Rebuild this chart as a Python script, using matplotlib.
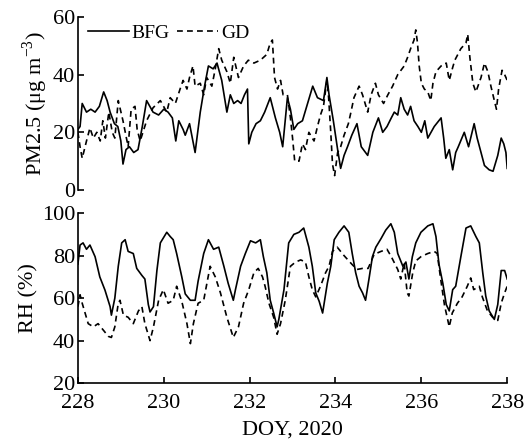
import matplotlib
matplotlib.use("Agg")
import matplotlib.pyplot as plt
import numpy as np

plt.rcParams['font.family'] = ['Liberation Serif', 'DejaVu Serif']
plt.rcParams['mathtext.fontset'] = 'stix'

# PM2.5, BFG (solid)
pm_bfg_doy = [228.0, 228.05, 228.1, 228.2, 228.3, 228.4, 228.5, 228.6, 228.68, 228.75, 228.85, 228.93,
              229.0, 229.05, 229.12, 229.2, 229.3, 229.4, 229.5, 229.6, 229.75, 229.88, 230.0, 230.1,
              230.2, 230.28, 230.35, 230.45, 230.5, 230.6, 230.73, 230.85, 230.95, 231.04, 231.15,
              231.24, 231.35, 231.47, 231.55, 231.63, 231.72, 231.8, 231.88, 231.95, 231.98, 232.05,
              232.15, 232.25, 232.35, 232.48, 232.6, 232.7, 232.77, 232.88, 232.95, 233.03, 233.12,
              233.23, 233.35, 233.47, 233.58, 233.72, 233.8, 233.85, 233.95, 234.05, 234.12, 234.2,
              234.28, 234.38, 234.5, 234.6, 234.75, 234.87, 235.0, 235.1, 235.2, 235.3, 235.37, 235.45,
              235.52, 235.6, 235.68, 235.75, 235.83, 235.92, 236.0, 236.08, 236.15, 236.3, 236.46,
              236.52, 236.57, 236.65, 236.73, 236.8, 236.86, 237.0, 237.1, 237.23, 237.3, 237.39,
              237.47, 237.58, 237.67, 237.78, 237.86, 237.92, 237.97, 238.0]
pm_bfg = [21, 22, 30, 27, 28, 27, 29, 34, 31, 27, 23, 22,
          17, 9, 14, 15, 13, 14, 22, 31, 27, 26, 28, 27,
          25, 17, 24, 21, 19, 23, 13, 27, 36, 43, 42,
          44, 38, 27, 33, 30, 31, 30, 33, 35, 16, 20,
          23, 24, 27, 32, 25, 20, 15, 32, 28, 21, 23,
          24, 30, 36, 32, 31, 39, 33, 24, 14, 7.5, 12,
          15, 19, 23, 15, 12, 20, 25, 20, 22, 25, 27, 26,
          32, 28, 26, 29, 24, 22, 20, 24, 18, 22, 25,
          18, 11, 14, 7, 13, 15, 20, 15, 23, 18, 13,
          8.5, 7, 6.5, 12, 18, 16, 13, 7.5]

# PM2.5, GD (dashed)
pm_gd_doy = [228.0, 228.05, 228.1, 228.2, 228.28, 228.36, 228.44, 228.52, 228.58, 228.64, 228.72, 228.8,
             228.86, 228.94, 229.05, 229.17, 229.24, 229.33, 229.38, 229.45, 229.6, 229.75, 229.92,
             230.07, 230.15, 230.27, 230.38, 230.45, 230.54, 230.6, 230.68, 230.73, 230.85, 230.93,
             231.0, 231.12, 231.2, 231.28, 231.35, 231.47, 231.55, 231.63, 231.74, 231.86, 231.97,
             232.1, 232.25, 232.4, 232.48, 232.53, 232.58, 232.65, 232.72, 232.78, 232.88, 232.95,
             233.0, 233.05, 233.15, 233.23, 233.3, 233.38, 233.5, 233.58, 233.65, 233.72, 233.8,
             233.84, 233.89, 233.93, 233.98, 234.05, 234.12, 234.2, 234.3, 234.36, 234.43, 234.55,
             234.63, 234.75, 234.83, 234.93, 235.0, 235.12, 235.22, 235.33, 235.45, 235.6, 235.68,
             235.75, 235.83, 235.87, 235.91, 235.95, 236.0, 236.07, 236.15, 236.22, 236.27, 236.34,
             236.46, 236.58, 236.65, 236.73, 236.78, 236.92, 237.04, 237.08, 237.13, 237.2, 237.27,
             237.39, 237.47, 237.55, 237.62, 237.7, 237.75, 237.8, 237.88, 237.94, 238.0]
pm_gd = [20, 15, 11, 17, 21.5, 18, 20, 17, 24, 18, 27, 20,
         18, 31, 24, 15, 28, 29, 21, 17, 24, 28.5, 31,
         27, 32, 30, 35, 38, 35, 39, 43, 36, 37, 33,
         39, 36, 42, 49, 45, 41, 37, 46, 39, 43, 45,
         44, 45, 47, 51, 52, 39, 35, 38, 33, 33, 25,
         18, 10, 10, 16, 14, 20, 17, 22, 26, 29, 38,
         32, 20, 9, 5, 13, 15, 19, 23, 27, 32, 36,
         33, 27, 33, 37, 33, 30, 33, 36, 40, 43, 46,
         49, 52, 55.5, 51, 43, 37, 35, 34, 31, 37, 41,
         43, 44, 38, 42.5, 45, 49, 51, 54, 46, 37, 34,
         39, 44, 41, 36, 31, 28, 35, 41.5, 40, 38]

# RH, BFG (solid)
rh_bfg_doy = [228.0, 228.05, 228.12, 228.2, 228.28, 228.4, 228.51, 228.63, 228.75, 228.78, 228.86, 228.94,
              229.02, 229.1, 229.17, 229.29, 229.37, 229.49, 229.56, 229.64, 229.68, 229.76, 229.84,
              229.92, 230.07, 230.15, 230.22, 230.3, 230.42, 230.5, 230.62, 230.73, 230.8, 230.93,
              231.04, 231.16, 231.28, 231.4, 231.5, 231.62, 231.67, 231.79, 231.9, 232.02, 232.14,
              232.25, 232.32, 232.4, 232.48, 232.56, 232.64, 232.68, 232.8, 232.91, 233.03, 233.15,
              233.26, 233.38, 233.46, 233.54, 233.62, 233.7, 233.81, 233.89, 233.97, 234.08, 234.2,
              234.31, 234.39, 234.47, 234.55, 234.63, 234.7, 234.78, 234.86, 234.94, 235.06, 235.17,
              235.29, 235.37, 235.45, 235.57, 235.64, 235.71, 235.79, 235.87, 235.99, 236.15, 236.27,
              236.34, 236.41, 236.5, 236.58, 236.65, 236.73, 236.8, 236.92, 237.04, 237.15, 237.27,
              237.35, 237.43, 237.5, 237.58, 237.7, 237.78, 237.86, 237.94, 238.0]
rh_bfg = [76, 85, 86, 83, 85, 79.5, 70, 63.8, 56, 52, 60, 75,
          86, 87.5, 82, 81, 74, 70.7, 69, 57, 53.5, 56, 73,
          86, 91, 89, 87.5, 81, 70, 62, 59, 59, 68, 81,
          87.5, 83, 84, 75, 67, 59, 64, 75, 81, 87, 86,
          87.5, 79.5, 72, 59, 53, 46.5, 50, 64, 86, 90, 91,
          93, 84, 75, 62.5, 58.5, 53, 67, 75, 87.5, 91, 94,
          91, 81, 72, 65.6, 62.5, 59, 69, 79.5, 84, 88, 92,
          95, 91, 81, 75, 77, 69, 79.5, 86, 91, 94, 95,
          89, 76, 67, 57, 54, 64, 65.6, 79.5, 93, 94, 89,
          86, 72, 61, 54, 50, 57, 73, 73, 69]

# RH, GD (dashed)
rh_gd_doy = [228.0, 228.05, 228.1, 228.24, 228.36, 228.47, 228.59, 228.71, 228.78, 228.86, 228.94, 228.98,
             229.06, 229.17, 229.29, 229.41, 229.49, 229.56, 229.68, 229.76, 229.88, 229.99, 230.1,
             230.22, 230.3, 230.42, 230.54, 230.62, 230.69, 230.8, 230.93, 231.08, 231.2, 231.32,
             231.47, 231.62, 231.74, 231.86, 231.98, 232.1, 232.2, 232.3, 232.36, 232.45, 232.56,
             232.64, 232.72, 232.83, 232.95, 233.07, 233.19, 233.3, 233.38, 233.46, 233.54, 233.65,
             233.77, 233.85, 233.93, 234.04, 234.2, 234.38, 234.5, 234.63, 234.76, 234.9, 235.06,
             235.2, 235.3, 235.45, 235.52, 235.6, 235.67, 235.71, 235.8, 235.87, 235.99, 236.15,
             236.3, 236.37, 236.45, 236.54, 236.65, 236.72, 236.84, 236.95, 237.07, 237.15, 237.22,
             237.35, 237.42, 237.54, 237.66, 237.78, 237.86, 237.94, 238.0]
rh_gd = [56, 61.6, 57.6, 48, 46.5, 48, 45, 42, 41.5, 46.5, 57.6, 59,
         52, 51, 48, 54, 56, 48, 40, 46.5, 59, 64, 57.6,
         59, 65.6, 58.5, 48, 38.6, 48, 57.6, 59, 75, 70, 62.5,
         51, 41.5, 46.5, 57.6, 64, 72, 74, 70, 65.6, 57.6, 51,
         43, 48, 59, 75, 77, 78, 77, 70, 64, 60.6, 65.6,
         72, 75, 82, 84, 80, 76, 73.5, 74, 74, 80.6, 82,
         83, 79.5, 73.5, 69, 76.5, 62.5, 61, 72, 77.5, 79.5, 81,
         82, 81, 69, 56.6, 46.5, 53, 57.6, 60.6, 65.6, 69.5, 64,
         65.6, 60.6, 54, 51, 49.5, 57.6, 62.5, 65.6]

fig = plt.figure(figsize=(5.3, 4.45), dpi=100)
ax1 = fig.add_axes([0.147, 0.573, 0.81, 0.389])
ax2 = fig.add_axes([0.147, 0.139, 0.81, 0.382])

lw = 1.2
dash = (0, (3.5, 2.5))

ax1.plot(pm_bfg_doy, pm_bfg, color='black', lw=lw, label='BFG')
ax1.plot(pm_gd_doy, pm_gd, color='black', lw=lw, ls=dash, label='GD')
ax1.set_xlim(228, 238)
ax1.set_ylim(0, 60)
ax1.set_yticks([0, 20, 40, 60])
ax1.set_xticks([])
for s in ['top', 'right', 'bottom']:
    ax1.spines[s].set_visible(False)
ax1.set_ylabel('PM2.5 (μg m$^{\\mathregular{-3}}$)', fontsize=16, labelpad=2)
ax1.legend(loc='upper left', ncol=2, frameon=False, fontsize=14, handlelength=2.1,
           handletextpad=0.15, columnspacing=0.4, borderaxespad=0.0, bbox_to_anchor=(0.005, 1.0))

ax2.plot(rh_bfg_doy, rh_bfg, color='black', lw=lw)
ax2.plot(rh_gd_doy, rh_gd, color='black', lw=lw, ls=dash)
ax2.set_xlim(228, 238)
ax2.set_ylim(20, 100)
ax2.set_yticks([20, 40, 60, 80, 100])
ax2.set_xticks([228, 230, 232, 234, 236, 238])
for s in ['top', 'right']:
    ax2.spines[s].set_visible(False)
ax2.set_ylabel('RH (%)', fontsize=16, labelpad=2)
ax2.set_xlabel('DOY, 2020', fontsize=16, labelpad=5)

for ax in (ax1, ax2):
    ax.tick_params(direction='in', labelsize=16, length=4, width=1.2, pad=2)
    for s in ax.spines.values():
        s.set_linewidth(1.2)
ax2.tick_params(axis='x', pad=8)

fig.savefig('out.png', dpi=100)
